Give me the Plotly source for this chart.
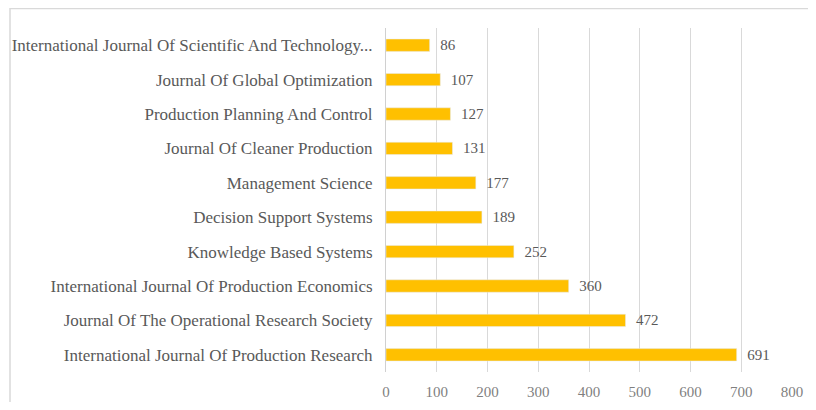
import plotly.graph_objects as go

journals = [
    "International Journal Of Production Research",
    "Journal Of The Operational Research Society",
    "International Journal Of Production Economics",
    "Knowledge Based Systems",
    "Decision Support Systems",
    "Management Science",
    "Journal Of Cleaner Production",
    "Production Planning And Control",
    "Journal Of Global Optimization",
    "International Journal Of Scientific And Technology...",
]
counts = [691, 472, 360, 252, 189, 177, 131, 127, 107, 86]
x_ticks = [0, 100, 200, 300, 400, 500, 600, 700, 800]

# page body has an 8px margin; figure coords = screen coords - 8
OFF = 8
W, H = 800, 394
L = 386 - OFF
R = W - (792 - OFF)
T = 28 - OFF
B = H - (372 - OFF)
pw, ph = W - L - R, H - T - B

def px_x(p):
    return (p - OFF - L) / pw

def px_y(p):
    return (H - B - (p - OFF)) / ph

font = "Liberation Serif, Times New Roman, serif"

fig = go.Figure(go.Bar(
    x=counts, y=journals, orientation="h",
    marker=dict(color="#FFC000"),
    width=0.36,
    text=["\u00a0\u00a0" + str(c) for c in counts], textposition="outside",
    constraintext="none",
    textfont=dict(family=font, size=15, color="#595959"),
    cliponaxis=False,
))

fig.update_layout(
    width=W, height=H,
    margin=dict(l=L, r=R, t=T, b=B, autoexpand=False),
    paper_bgcolor="white", plot_bgcolor="white",
    font=dict(family=font, size=16, color="#595959"),
    showlegend=False,
    xaxis=dict(range=[0, 800], tickvals=x_ticks, showgrid=True, gridcolor="#d9d9d9",
               gridwidth=1, zeroline=False, showline=False, ticks="", fixedrange=True,
               ticklabelstandoff=9, automargin=False,
               tickfont=dict(size=15, color="#7f7f7f")),
    yaxis=dict(showgrid=False, showline=True, linecolor="#d0d0d0", linewidth=1,
               ticks="", ticklen=0, range=[-0.5, 9.5], automargin=False,
               ticklabelstandoff=9,
               tickfont=dict(size=17, color="#595959")),
    shapes=[dict(type="rect", xref="paper", yref="paper",
                 x0=px_x(10), x1=px_x(830), y0=px_y(430), y1=px_y(8.5),
                 line=dict(color="#d9d9d9", width=1.5), fillcolor="rgba(0,0,0,0)", layer="below")],
)

fig.write_html("out.html")
